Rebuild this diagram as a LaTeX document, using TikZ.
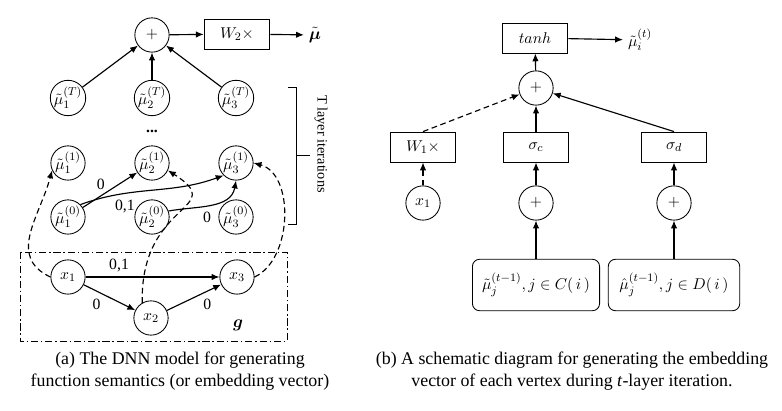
\documentclass[tikz,border=0pt]{standalone}
\usepackage{amsmath}
\usepackage{amsfonts}
\usepackage{amssymb}
\usepackage{fontspec}
\setmainfont{Liberation Serif}
\usepackage{tikz}
\usetikzlibrary{arrows.meta}

\begin{document}
\begin{tikzpicture}[x=0.7pt,y=-0.7pt,>={Latex[length=5.5pt,width=4.5pt]},
	font=\fontsize{11}{13}\selectfont,
	unit/.style={draw,circle,semithick,minimum size=24pt,inner sep=0pt},
	op/.style={draw,rectangle,semithick,minimum width=46pt,minimum height=21pt,inner sep=1pt},
	nbr/.style={draw,rectangle,rounded corners=5pt,semithick,minimum height=36pt,inner sep=2pt},
	flow/.style={->,thick},
	skip/.style={->,thick,dash pattern=on 4pt off 2.5pt}]
	\useasboundingbox (0,0) rectangle (782,411);
	% (a) DNN model
	\node[unit] (sumL) at (152,35) {$+$};
	\node[op] (wtwo) at (237,34) {$W_2\times$};
	\node (muout) at (315,35) {\fontsize{13}{15}\selectfont$\tilde{\boldsymbol{\mu}}$};
	\node[unit] (muT1) at (68,98) {$\tilde{\mu}_1^{(T)}$};
	\node[unit] (muT2) at (152,98) {$\tilde{\mu}_2^{(T)}$};
	\node[unit] (muT3) at (236,98) {$\tilde{\mu}_3^{(T)}$};
	\node (dots) at (152,131) {\textbf{...}};
	\node[unit] (muA1) at (68,163) {$\tilde{\mu}_1^{(1)}$};
	\node[unit] (muA2) at (152,163) {$\tilde{\mu}_2^{(1)}$};
	\node[unit] (muA3) at (236,163) {$\tilde{\mu}_3^{(1)}$};
	\node[unit] (muZ1) at (68,217) {$\tilde{\mu}_1^{(0)}$};
	\node[unit] (muZ2) at (152,217) {$\tilde{\mu}_2^{(0)}$};
	\node[unit] (muZ3) at (236,217) {$\tilde{\mu}_3^{(0)}$};
	\node[unit] (xa) at (68,277) {$x_1$};
	\node[unit] (xb) at (151,318) {$x_2$};
	\node[unit] (xc) at (237,277) {$x_3$};
	\draw[semithick,dash pattern=on 5pt off 2pt on 1pt off 2pt] (20,252) rectangle (287,341);
	\node (gname) at (238,325) {\fontsize{13}{15}\selectfont$\boldsymbol{g}$};

	\draw[flow] (muT1) -- (sumL);
	\draw[flow] (muT2) -- (sumL);
	\draw[flow] (muT3) -- (sumL);
	\draw[flow] (sumL) -- (wtwo);
	\draw[flow] (wtwo) -- (muout);

	\draw[flow] (muZ1) -- node[pos=0.45,above left=-2pt] {0} (muA2);
	\draw[flow] (muZ1.45) to[out=20,in=200] node[pos=0.3,below=1pt] {0,1} (muA3.225);
	\draw[flow] (muZ2.20) to[out=10,in=260] node[pos=0.45,below=1pt] {0} (muA3.south);
	\draw[flow] (xa) -- node[pos=0.25,above] {0,1} (xc);
	\draw[flow] (xa) -- node[pos=0.4,below left=-1pt] {0} (xb);
	\draw[flow] (xb) -- node[pos=0.6,below right=-1pt] {0} (xc);

	\draw[skip] (xa.west) to[out=155,in=255,looseness=1.15] (muA1.205);
	\draw[skip] (xb.120) .. controls (140,200) and (230,210) .. (muA2.-25);
	\draw[skip] (xc.east) to[out=25,in=-15,looseness=0.95] (muA3.east);

	% bracket
	\draw[semithick] (288,87) -- (296,87) -- (296,224) -- (288,224);
	\draw[semithick] (296,155) -- (310,155);
	\node[rotate=-90,font=\fontsize{10}{12}\selectfont] (brk) at (321,144) {T layer iterations};

	% (b) one vertex
	\node[op] (tanh) at (535,38) {$tanh$};
	\node (muiout) at (640,40) {$\tilde{\mu}_i^{(t)}$};
	\node[unit] (sumR) at (536,88) {$+$};
	\node[op] (wone) at (423,147) {$W_1\times$};
	\node[op] (sigc) at (536,147) {$\sigma_c$};
	\node[op] (sigd) at (674,147) {$\sigma_d$};
	\node[unit] (xr) at (423,203) {$x_1$};
	\node[unit] (plusc) at (536,203) {$+$};
	\node[unit] (plusd) at (674,203) {$+$};
	\node[nbr,minimum width=89pt] (nbrc) at (536,285) {$\tilde{\mu}_j^{(t-1)},j\in C(\,i\,)$};
	\node[nbr,minimum width=92pt] (nbrd) at (674,285) {$\hat{\mu}_j^{(t-1)},j\in D(\,i\,)$};

	\draw[flow] (sumR) -- (tanh);
	\draw[flow] (tanh) -- (muiout);
	\draw[skip] (wone.north) -- (sumR);
	\draw[flow] (sigc) -- (sumR);
	\draw[flow] (sigd.north) -- (sumR);
	\draw[skip] (xr) -- (wone);
	\draw[flow] (plusc) -- (sigc);
	\draw[flow] (plusd) -- (sigd);
	\draw[flow] (nbrc) -- (plusc);
	\draw[flow] (nbrd) -- (plusd);

	% captions
	\node[align=center,font=\fontsize{12.5}{15}\selectfont] (capa) at (180,371)
		{(a) The DNN model for generating\\function semantics (or embedding vector)};
	\node[align=center,font=\fontsize{12.5}{15}\selectfont] (capb) at (572,371)
		{(b) A schematic diagram for generating the embedding\\vector of each vertex during \textit{t}-layer iteration.};
\end{tikzpicture}
\end{document}
